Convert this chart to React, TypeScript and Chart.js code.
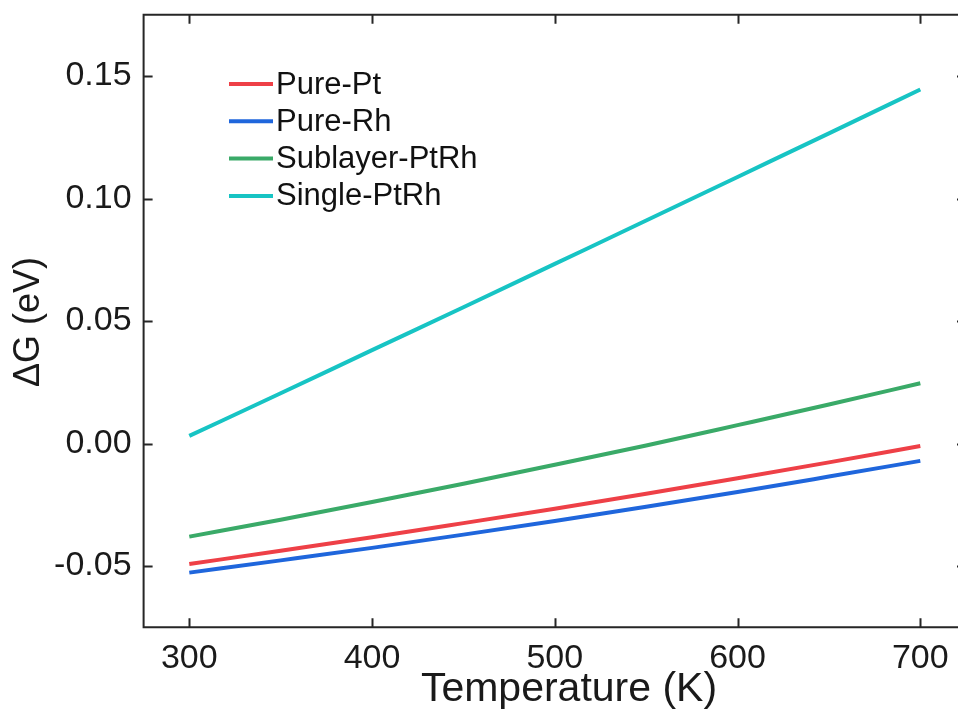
import React, { useEffect, useRef } from "react";
import { Chart, registerables } from "chart.js";

Chart.register(...registerables);

// Temperature grid (K)
const temperature = [300, 350, 400, 450, 500, 550, 600, 650, 700];

// Free-energy change ΔG (eV) for each surface model
const purePt = [-0.0492, -0.0438, -0.0383, -0.0325, -0.0266, -0.0205, -0.0142, -0.0077, -0.001];
const pureRh = [-0.0527, -0.0477, -0.0426, -0.0372, -0.0316, -0.0258, -0.0198, -0.0135, -0.0071];
const sublayerPtRh = [-0.038, -0.0311, -0.0239, -0.0164, -0.0087, -0.0008, 0.0075, 0.0159, 0.0246];
const singlePtRh = [0.0031, 0.0205, 0.0381, 0.0556, 0.0733, 0.091, 0.1088, 0.1266, 0.1445];

const seriesLabels = ["Pure-Pt", "Pure-Rh", "Sublayer-PtRh", "Single-PtRh"];
const seriesColors = ["#EE4047", "#1F66DC", "#3AAA68", "#17C4C4"];

const xTicks = [300, 400, 500, 600, 700];
const yTicks = [-0.05, 0, 0.05, 0.1, 0.15];

const FONT = 'Arial, "Liberation Sans", Helvetica, sans-serif';
const AXIS_COLOR = "#262626";

const framePlugin = {
  id: "frameAndLegend",
  afterDraw(chart: any) {
    const { ctx, chartArea, scales } = chart;
    const { left, right, top, bottom } = chartArea;
    ctx.save();
    ctx.strokeStyle = AXIS_COLOR;
    ctx.lineWidth = 2;
    ctx.beginPath();
    ctx.moveTo(left, top);
    ctx.lineTo(right, top);
    ctx.lineTo(right, bottom);
    ctx.lineTo(left, bottom);
    ctx.closePath();
    ctx.stroke();

    // inward tick marks on all four sides
    const tl = 9;
    ctx.beginPath();
    xTicks.forEach((v) => {
      const px = Math.round(scales.x.getPixelForValue(v)) + 0.5;
      ctx.moveTo(px, bottom);
      ctx.lineTo(px, bottom - tl);
      ctx.moveTo(px, top);
      ctx.lineTo(px, top + tl);
    });
    yTicks.forEach((v) => {
      const py = Math.round(scales.y.getPixelForValue(v)) + 0.5;
      ctx.moveTo(left, py);
      ctx.lineTo(left + tl, py);
      ctx.moveTo(right, py);
      ctx.lineTo(right - tl, py);
    });
    ctx.stroke();

    // axis titles
    ctx.fillStyle = "#1a1a1a";
    ctx.textAlign = "center";
    ctx.textBaseline = "middle";
    ctx.font = `41px ${FONT}`;
    ctx.fillText("Temperature (K)", 569, 690);
    ctx.font = `36px ${FONT}`;
    ctx.save();
    ctx.translate(29, 322);
    ctx.rotate(-Math.PI / 2);
    ctx.fillText("ΔG (eV)", 0, 0);
    ctx.restore();

    // legend
    ctx.font = `31px ${FONT}`;
    ctx.textAlign = "left";
    chart.data.datasets.forEach((ds: any, i: number) => {
      const y = 84 + i * 37.3;
      ctx.strokeStyle = ds.borderColor;
      ctx.lineWidth = 4;
      ctx.beginPath();
      ctx.moveTo(229, y);
      ctx.lineTo(273, y);
      ctx.stroke();
      ctx.fillStyle = "#111";
      ctx.fillText(ds.label, 276, y + 1);
    });
    ctx.restore();
  },
};

export default function App() {
  const ref = useRef<HTMLCanvasElement>(null);

  useEffect(() => {
    const canvas = ref.current;
    if (!canvas) return;
    const seriesValues = [purePt, pureRh, sublayerPtRh, singlePtRh];
    const chart = new Chart(canvas, {
      type: "line",
      data: {
        datasets: seriesValues.map((vals, i) => ({
          label: seriesLabels[i],
          data: temperature.map((t, j) => ({ x: t, y: vals[j] })),
          borderColor: seriesColors[i],
          backgroundColor: seriesColors[i],
          borderWidth: 4,
          pointRadius: 0,
          cubicInterpolationMode: "monotone",
          fill: false,
        })),
      },
      options: {
        animation: false,
        responsive: false,
        devicePixelRatio: 1,
        layout: { padding: { left: 0, right: 4, top: 14.75, bottom: 0 } },
        plugins: { legend: { display: false }, tooltip: { enabled: false } },
        scales: {
          x: {
            type: "linear",
            min: 275,
            max: 725,
            grid: { display: false, drawTicks: false },
            border: { display: false },
            afterBuildTicks: (s: any) => {
              s.ticks = xTicks.map((v) => ({ value: v }));
            },
            afterFit: (s: any) => {
              s.height = 94.75;
              s.paddingLeft = 0;
              s.paddingRight = 0;
            },
            ticks: {
              color: "#1a1a1a",
              font: { family: FONT, size: 34 },
              padding: 11,
              maxRotation: 0,
              callback: (v: any) => String(v),
            },
          },
          y: {
            type: "linear",
            min: -0.075,
            max: 0.175,
            grid: { display: false, drawTicks: false },
            border: { display: false },
            afterBuildTicks: (s: any) => {
              s.ticks = yTicks.map((v) => ({ value: v }));
            },
            afterFit: (s: any) => {
              s.width = 143.6;
              s.paddingTop = 0;
              s.paddingBottom = 0;
            },
            ticks: {
              color: "#1a1a1a",
              font: { family: FONT, size: 34 },
              padding: 12,
              callback: (v: any) => Number(v).toFixed(2),
            },
          },
        },
      },
      plugins: [framePlugin],
    });
    return () => chart.destroy();
  }, []);

  return (
    <div
      style={{
        position: "fixed",
        left: 0,
        top: 0,
        width: 958,
        height: 722,
        overflow: "hidden",
        background: "#fff",
      }}
    >
      <canvas ref={ref} width={970} height={722} style={{ display: "block" }} />
    </div>
  );
}
